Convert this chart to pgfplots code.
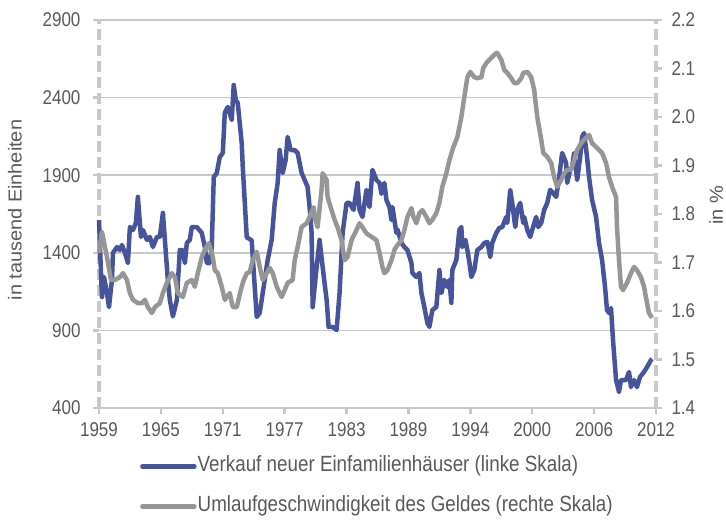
\documentclass[border=0pt]{standalone}
\usepackage{fontspec}
\setmainfont{Liberation Sans}
\newfontfamily\condf{Liberation Sans}[FakeStretch=0.855]
\newfontfamily\widef{Liberation Sans}[FakeStretch=1.06]
\usepackage{pgfplots}
\usepackage{pgfplotstable}
\pgfplotsset{compat=1.18}
\definecolor{blueline}{RGB}{71,84,155}
\definecolor{grayline}{RGB}{150,150,150}
\definecolor{gridc}{RGB}{200,200,200}
\definecolor{axc}{RGB}{200,200,200}
\definecolor{txt}{RGB}{89,89,89}

\pgfplotstableread{
x y
1959.00 1611
1959.19 1270
1959.28 1115
1959.48 1244
1959.76 1140
1959.95 1050
1960.23 1225
1960.33 1399
1960.71 1437
1960.99 1418
1961.18 1450
1961.47 1400
1961.75 1334
1961.94 1566
1962.23 1547
1962.51 1592
1962.70 1760
1962.99 1502
1963.18 1547
1963.56 1483
1963.84 1502
1964.13 1437
1964.51 1502
1964.79 1502
1965.08 1657
1965.27 1483
1965.55 1225
1965.74 1096
1966.03 990
1966.41 1096
1966.69 1418
1966.98 1418
1967.17 1334
1967.36 1463
1967.64 1483
1967.83 1566
1968.31 1566
1968.78 1528
1969.07 1437
1969.26 1334
1969.54 1334
1969.73 1437
1969.92 1888
1970.21 1914
1970.49 2017
1970.78 2043
1970.97 2301
1971.25 2340
1971.63 2256
1971.82 2481
1972.01 2385
1972.20 2365
1972.58 2107
1972.68 1953
1973.06 1500
1973.53 1480
1973.63 1373
1974.01 987
1974.29 1012
1974.58 1141
1975.05 1354
1975.43 1483
1975.72 1721
1976.00 1850
1976.19 2062
1976.48 1914
1976.76 1998
1976.95 2146
1977.24 2062
1977.62 2062
1977.90 2043
1978.28 1914
1978.57 1869
1978.85 1824
1979.04 1695
1979.23 1528
1979.33 1050
1979.71 1308
1979.99 1483
1980.28 1308
1980.66 1096
1980.85 922
1981.23 922
1981.61 903
1981.89 1141
1982.18 1528
1982.56 1721
1982.84 1721
1983.22 1676
1983.60 1850
1983.79 1676
1984.07 1631
1984.45 1805
1984.74 1695
1985.02 1934
1985.40 1869
1985.69 1850
1985.88 1780
1986.16 1850
1986.35 1740
1986.64 1695
1986.83 1611
1986.92 1695
1987.30 1528
1987.40 1550
1987.78 1463
1988.06 1437
1988.35 1418
1988.73 1334
1988.82 1270
1989.20 1244
1989.49 1270
1989.68 1141
1989.96 1050
1990.25 947
1990.44 922
1990.72 1031
1991.10 1050
1991.39 1289
1991.58 1141
1991.86 1225
1992.15 1180
1992.34 1225
1992.53 1077
1992.62 1289
1993.00 1354
1993.29 1547
1993.48 1566
1993.57 1437
1993.86 1483
1994.05 1418
1994.24 1340
1994.43 1244
1994.71 1289
1995.00 1418
1995.38 1437
1995.66 1463
1995.95 1470
1996.23 1373
1996.42 1463
1996.80 1528
1997.09 1560
1997.37 1566
1997.75 1631
1997.85 1592
1998.13 1805
1998.32 1721
1998.61 1566
1998.80 1676
1999.08 1721
1999.37 1592
1999.46 1631
1999.75 1547
2000.03 1502
2000.22 1547
2000.60 1631
2000.79 1566
2001.08 1592
2001.36 1676
2001.65 1721
2001.93 1805
2002.22 1785
2002.50 1760
2002.79 1888
2003.07 2043
2003.45 1979
2003.55 1850
2003.83 1934
2004.02 1953
2004.21 2043
2004.50 1869
2004.78 2017
2004.97 2146
2005.16 2172
2005.44 2017
2005.63 1888
2005.92 1740
2006.30 1631
2006.58 1463
2006.87 1354
2007.15 1180
2007.34 1031
2007.53 1012
2007.72 1044
2007.91 838
2008.20 580
2008.48 503
2008.67 580
2009.15 580
2009.43 632
2009.62 535
2009.91 580
2010.19 535
2010.48 600
2010.86 632
2011.15 664
2011.52 709
2011.62 716
}\sales

\pgfplotstableread{
x y
1959.00 1.720
1959.28 1.763
1959.76 1.711
1960.14 1.664
1960.52 1.664
1960.99 1.670
1961.28 1.678
1961.66 1.664
1961.94 1.637
1962.23 1.623
1962.70 1.616
1963.08 1.616
1963.37 1.623
1963.65 1.608
1964.03 1.596
1964.32 1.608
1964.79 1.616
1965.08 1.637
1965.46 1.658
1965.74 1.670
1965.93 1.678
1966.22 1.670
1966.50 1.637
1966.98 1.629
1967.36 1.658
1967.83 1.664
1968.12 1.650
1968.40 1.678
1968.78 1.711
1969.07 1.726
1969.45 1.740
1969.83 1.711
1970.02 1.684
1970.30 1.678
1970.68 1.650
1970.97 1.623
1971.44 1.637
1971.73 1.608
1972.11 1.608
1972.49 1.643
1972.77 1.664
1973.06 1.678
1973.34 1.680
1973.63 1.705
1974.01 1.722
1974.29 1.691
1974.58 1.664
1974.96 1.678
1975.24 1.689
1975.53 1.678
1975.91 1.650
1976.38 1.629
1976.67 1.643
1976.95 1.658
1977.43 1.664
1977.62 1.705
1977.90 1.732
1978.28 1.773
1978.76 1.781
1979.04 1.794
1979.42 1.814
1979.52 1.794
1979.80 1.773
1980.18 1.850
1980.28 1.884
1980.66 1.870
1980.75 1.835
1981.13 1.808
1981.42 1.788
1981.70 1.773
1982.08 1.746
1982.37 1.705
1982.65 1.711
1983.03 1.746
1983.50 1.767
1983.79 1.781
1984.07 1.773
1984.45 1.760
1984.93 1.753
1985.40 1.746
1985.69 1.720
1985.97 1.691
1986.16 1.678
1986.45 1.684
1986.83 1.705
1987.11 1.726
1987.40 1.736
1987.78 1.746
1988.06 1.767
1988.35 1.794
1988.73 1.812
1988.92 1.794
1989.20 1.781
1989.49 1.802
1989.77 1.808
1990.15 1.794
1990.44 1.781
1990.72 1.788
1991.10 1.802
1991.39 1.823
1991.67 1.856
1992.05 1.884
1992.34 1.911
1992.72 1.938
1993.10 1.959
1993.48 2.000
1993.76 2.041
1994.05 2.082
1994.33 2.093
1994.71 2.082
1995.00 2.080
1995.38 2.082
1995.57 2.101
1995.85 2.111
1996.14 2.118
1996.42 2.124
1996.80 2.132
1996.90 2.132
1997.28 2.118
1997.56 2.097
1997.85 2.091
1998.23 2.080
1998.51 2.070
1998.80 2.070
1999.18 2.080
1999.37 2.091
1999.75 2.093
2000.13 2.082
2000.41 2.056
2000.70 2.000
2001.08 1.953
2001.27 1.926
2001.65 1.918
2002.03 1.905
2002.31 1.876
2002.60 1.856
2002.98 1.870
2003.26 1.884
2003.55 1.891
2003.93 1.891
2004.21 1.911
2004.50 1.932
2004.88 1.946
2005.16 1.953
2005.44 1.959
2005.63 1.963
2005.92 1.946
2006.39 1.936
2006.87 1.926
2007.25 1.905
2007.53 1.876
2007.82 1.856
2008.20 1.835
2008.29 1.773
2008.48 1.705
2008.67 1.650
2008.86 1.643
2009.24 1.658
2009.62 1.678
2009.91 1.691
2010.19 1.684
2010.57 1.670
2010.86 1.650
2011.15 1.616
2011.33 1.596
2011.62 1.586
}\velocity

\begin{document}
\begin{tikzpicture}
\useasboundingbox (0,0) rectangle (726pt,521pt);
\pgfplotsset{
  common/.style={
    at={(99pt,113pt)}, anchor=south west,
    scale only axis, width=557pt, height=388pt,
    xmin=1959, xmax=2012,
    tick align=outside, major tick length=6pt,
    tick style={axc, line width=2.5pt},
    ticklabel style={font=\condf\fontsize{19.9}{22}\selectfont, text=txt},
    /pgf/number format/assume math mode=true,
    clip=false,
  }
}
\begin{axis}[common,
  ymin=400, ymax=2900,
  axis x line*=bottom, axis y line*=left,
  ytick={400,900,1400,1900,2400,2900},
  yticklabel style={/pgf/number format/1000 sep={}, xshift=-9pt},
  xtick={1959,1964.889,1970.778,1976.667,1982.556,1988.444,1994.333,2000.222,2006.111,2012},
  xticklabels={1959,1965,1971,1977,1983,1989,1994,2000,2006,2012},
  xticklabel style={yshift=-5pt},
  ymajorgrids, grid style={gridc, line width=1.5pt},
  x axis line style={axc, line width=2.5pt, -},
  y axis line style={axc, line width=3.5pt, dash pattern=on 11pt off 5pt, -},
  ylabel={in tausend Einheiten},
  every axis y label/.style={at={(axis description cs:-0.151,0.51)}, rotate=90, anchor=center,
    font=\widef\fontsize{18.8}{21}\selectfont, text=txt},
]
\addplot[blueline, line width=4.5pt, line join=round] table[x=x,y=y] {\sales};
\end{axis}
\begin{axis}[common,
  ymin=1.4, ymax=2.2,
  axis y line*=right, axis x line=none,
  ytick={1.4,1.5,1.6,1.7,1.8,1.9,2.0,2.1,2.2},
  yticklabel style={/pgf/number format/fixed, /pgf/number format/precision=1, /pgf/number format/fixed zerofill, xshift=6pt},
  y axis line style={axc, line width=3.5pt, dash pattern=on 11pt off 5pt, -},
  ylabel={in \%},
  every axis y label/.style={at={(axis description cs:1.108,0.523)}, rotate=90, anchor=center,
    font=\widef\fontsize{18.8}{21}\selectfont, text=txt},
  legend style={at={(axis description cs:0.0736,-0.2023)}, anchor=west, draw=none, fill=none,
    font=\condf\fontsize{22}{24}\selectfont, text=txt, inner sep=0pt, row sep=20pt,
    nodes={inner sep=1pt, text height=14pt, text depth=4pt}},
  legend cell align=left,
  legend image code/.code={\draw[#1, line width=4.5pt, line cap=round] (0pt,0pt) -- (52pt,0pt);},
]
\addlegendimage{blueline}
\addlegendentry{Verkauf neuer Einfamilienhäuser (linke Skala)}
\addplot[grayline, line width=4.5pt, line join=round] table[x=x,y=y] {\velocity};
\addlegendentry{Umlaufgeschwindigkeit des Geldes (rechte Skala)}
\end{axis}
\end{tikzpicture}
\end{document}
